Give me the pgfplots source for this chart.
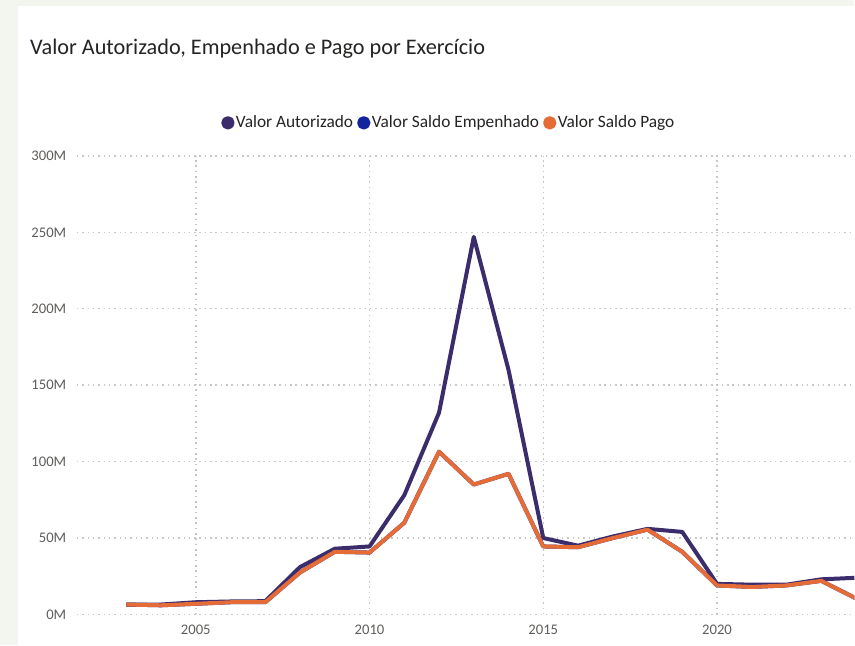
\documentclass[border=0pt]{standalone}
\usepackage{pgfplots}
\pgfplotsset{compat=1.18}
\usepackage{fontspec}
\setmainfont{Carlito}
\definecolor{purp}{HTML}{3B2C6C}
\definecolor{empblue}{HTML}{12239E}
\definecolor{orng}{HTML}{E66C37}
\definecolor{bgc}{HTML}{F3F6EE}
\definecolor{titlec}{HTML}{252423}
\definecolor{tickc}{HTML}{605E5C}
\definecolor{gridc}{HTML}{C8C6C4}
\pgfplotstableread{
year aut emp pago
2003 6.5 6.5 6.5
2004 6.5 6 6
2005 8 7 7
2006 8.5 8 8
2007 8.7 8 8
2008 31 27.5 27.5
2009 43 41 41
2010 44.5 40.5 40.5
2011 78 60 60
2012 132 106.5 106.5
2013 247 85 85
2014 160 92 92
2015 50 44.5 44.5
2016 45 44 44
2017 51 50 50
2018 56 55.5 55.5
2019 54 41 41
2020 20 19 19
2021 19.5 18 18
2022 19.5 19 19
2023 23 22 22
2024 24 10.5 10.5
}\data
\begin{document}
\begin{tikzpicture}[x=0.75pt,y=0.75pt]
\fill[bgc] (0,0) rectangle (855,646);
\fill[white] (18,0) rectangle (855,640);
\node[anchor=west, text=titlec, font=\fontsize{16.7}{20}\selectfont, inner sep=0pt] at (30,597) {Valor Autorizado, Empenhado e Pago por Exercício};
\begin{axis}[
  at={(57.75pt,23.25pt)}, anchor=south west,
  scale only axis, width=583.5pt, height=344.25pt,
  xmin=2001.58, xmax=2023.95, ymin=0, ymax=300,
  axis line style={draw=none},
  major tick length=0pt,
  xtick={2005,2010,2015,2020},
  xticklabels={2005,2010,2015,2020},
  ytick={0,50,100,150,200,250,300},
  yticklabels={0M,50M,100M,150M,200M,250M,300M},
  ticklabel style={font=\fontsize{11}{13}\selectfont, text=tickc},
  yticklabel style={xshift=-4.5pt},
  xticklabel style={yshift=-4.5pt},
  grid=major,
  major grid style={gridc, line width=1.1pt, dash pattern=on 1.1pt off 2.9pt},
  legend style={at={(0.478,1.072)}, anchor=center, draw=none, fill=none,
    legend columns=3, font=\fontsize{13}{15}\selectfont, text=titlec,
    /tikz/every even column/.append style={column sep=2pt},
    /tikz/every odd column/.append style={column sep=0pt},
    nodes={inner sep=1pt}},
  legend image code/.code={\fill[#1] (5pt,0pt) circle (3.5pt);},
]
\addplot[color=purp, line width=3pt, line join=round] table[x=year,y=aut] {\data};
\addlegendentry{Valor Autorizado}
\addplot[color=empblue, line width=3pt, line join=round] table[x=year,y=emp] {\data};
\addlegendentry{Valor Saldo Empenhado}
\addplot[color=orng, line width=3pt, line join=round] table[x=year,y=pago] {\data};
\addlegendentry{Valor Saldo Pago}
\end{axis}
\end{tikzpicture}
\end{document}
